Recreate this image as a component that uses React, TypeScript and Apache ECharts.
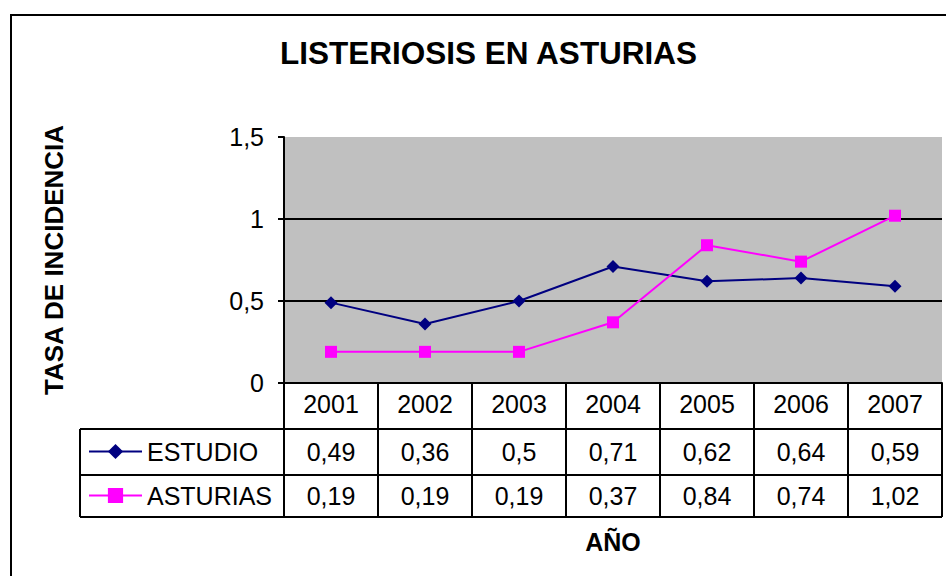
import React, { useEffect, useRef } from "react";
import * as echarts from "echarts";

const years = ["2001", "2002", "2003", "2004", "2005", "2006", "2007"];
const estudio = [0.49, 0.36, 0.5, 0.71, 0.62, 0.64, 0.59];
const asturias = [0.19, 0.19, 0.19, 0.37, 0.84, 0.74, 1.02];
const seriesNames = ["ESTUDIO", "ASTURIAS"];
const yTicks = { min: 0, max: 1.5, interval: 0.5 };

const FONT = "'Liberation Sans', Arial, sans-serif";
const fmt = (v: number) => String(v).replace(".", ",");

export default function App() {
  const ref = useRef<HTMLDivElement>(null);
  useEffect(() => {
    if (!ref.current) return;
    const chart = echarts.init(ref.current, null, { renderer: "svg" });
    const gridLeft = 284;
    const gridRight = 942;
    const gridTop = 137;
    const axisY = 383;
    const row1 = 429;
    const row2 = 475;
    const row3 = 517;
    const legendLeft = 80;
    const FS = 25;

    chart.setOption({
      animation: false,
      backgroundColor: "#ffffff",
      textStyle: { fontFamily: FONT },
      title: {
        text: "LISTERIOSIS EN ASTURIAS",
        left: 275,
        top: 32,
        textStyle: { fontFamily: FONT, fontSize: 31.5, fontWeight: "bold", color: "#000" },
      },
      legend: {
        data: seriesNames,
        orient: "vertical",
        left: 88,
        top: 439,
        padding: 0,
        itemWidth: 53,
        itemHeight: 19,
        itemGap: 19,
        textStyle: { fontFamily: FONT, fontSize: FS, color: "#000", lineHeight: 25 },
      },
      grid: {
        left: gridLeft,
        right: 946 - gridRight,
        top: gridTop,
        bottom: 576 - axisY,
        show: true,
        backgroundColor: "#C0C0C0",
        borderWidth: 0,
      },
      xAxis: {
        type: "category",
        data: years,
        boundaryGap: true,
        name: "AÑO",
        nameLocation: "middle",
        nameGap: 146,
        nameTextStyle: { fontFamily: FONT, fontSize: FS, fontWeight: "bold", color: "#000" },
        axisLine: { lineStyle: { color: "#000", width: 2 } },
        axisTick: { show: false },
        axisLabel: {
          fontFamily: FONT,
          fontSize: FS,
          color: "#000",
          margin: 21,
          verticalAlign: "middle",
        },
        splitLine: { show: false },
      },
      yAxis: {
        type: "value",
        min: yTicks.min,
        max: yTicks.max,
        interval: yTicks.interval,
        name: "TASA DE INCIDENCIA",
        nameLocation: "middle",
        nameGap: 217,
        nameRotate: 90,
        nameTextStyle: { fontFamily: FONT, fontSize: 26, fontWeight: "bold", color: "#000" },
        axisLine: { show: true, lineStyle: { color: "#000", width: 2 } },
        axisTick: { show: true, length: 6, lineStyle: { color: "#000", width: 2 } },
        axisLabel: {
          fontFamily: FONT,
          fontSize: FS,
          color: "#000",
          margin: 20,
          formatter: (v: number) => fmt(v),
        },
        splitLine: {
          show: true,
          showMaxLine: false,
          lineStyle: { color: ["#000", "#000", "#000", "#C0C0C0"], width: 2 },
        },
      },
      series: [
        {
          name: seriesNames[0],
          type: "line",
          data: estudio,
          symbol: "diamond",
          symbolSize: 13,
          lineStyle: { color: "#000080", width: 2 },
          itemStyle: { color: "#000080" },
        },
        {
          name: seriesNames[1],
          type: "line",
          data: asturias,
          symbol: "rect",
          symbolSize: 12,
          lineStyle: { color: "#FF00FF", width: 2 },
          itemStyle: { color: "#FF00FF" },
        },
      ],
    });

    const centers = years.map((_, i) => chart.convertToPixel({ xAxisIndex: 0 }, i) as number);
    const half = centers.length > 1 ? (centers[1] - centers[0]) / 2 : 47;
    const bounds = [centers[0] - half, ...centers.map((c) => c + half)];
    const black = { stroke: "#000", lineWidth: 2 };
    const elements: any[] = [];
    elements.push({
      type: "rect",
      shape: { x: 11, y: 15, width: 1000, height: 1000 },
      style: { fill: "none", stroke: "#000", lineWidth: 2 },
      silent: true,
    });
    bounds.forEach((bx) => {
      elements.push({ type: "line", shape: { x1: bx, y1: axisY, x2: bx, y2: row3 }, style: black });
    });
    [row1, row2, row3].forEach((ry) => {
      elements.push({ type: "line", shape: { x1: legendLeft, y1: ry, x2: gridRight, y2: ry }, style: black });
    });
    elements.push({ type: "line", shape: { x1: legendLeft, y1: row1, x2: legendLeft, y2: row3 }, style: black });
    const rowsData = [estudio, asturias];
    const rowCenters = [(row1 + row2) / 2, (row2 + row3) / 2];
    rowsData.forEach((arr, r) => {
      arr.forEach((v, i) => {
        elements.push({
          type: "text",
          x: centers[i],
          y: rowCenters[r],
          style: {
            text: fmt(v),
            fontFamily: FONT,
            fontSize: FS,
            fill: "#000",
            align: "center",
            verticalAlign: "middle",
          },
        });
      });
    });
    chart.setOption({ graphic: { elements } });

    return () => chart.dispose();
  }, []);
  return (
    <div
      ref={ref}
      style={{ position: "absolute", left: 0, top: 0, width: 946, height: 576 }}
    />
  );
}
